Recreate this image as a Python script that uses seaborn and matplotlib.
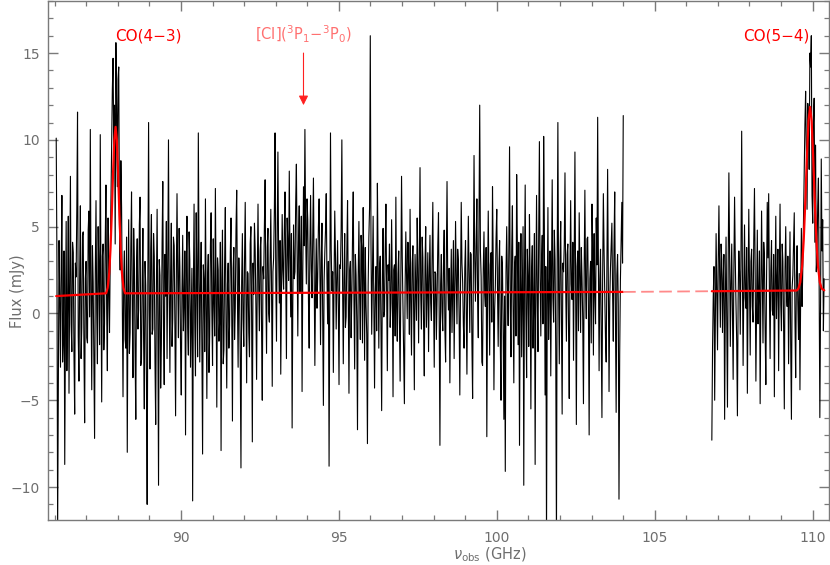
import numpy as np
import pandas as pd
import matplotlib
matplotlib.use("Agg")
import matplotlib.pyplot as plt
import seaborn as sns
from matplotlib.ticker import MultipleLocator

# ---------------- data ----------------
# channel grid of the two observed spectral windows (GHz)
seg1_start, seg2_start, chan_width = 86.05, 106.81, 0.0225

seg1_flux = [
    10.1, 3.2, -12.5, -4.0, 4.2, 0.9, -3.1, 2.5, 6.8, -2.8, -1.5, 3.6, -8.7, -1.0, 5.3, -3.3, 0.4, 5.6, -4.6, 1.7,
    7.9, -0.6, -2.2, 4.1, 3.5, -2.4, -5.8, 2.9, 2.1, 6.0, 11.6, -1.3, -3.9, 2.2, 6.2, -2.6, -0.8, 4.5, 4.7, -1.9,
    -6.3, 2.0, 3.0, -1.4, -1.7, 4.8, 5.9, -0.2, 10.6, 1.3, -4.4, 3.9, 1.8, -2.7, -7.2, 2.4, 6.5, 0.1, -2.9, 5.0,
    2.6, -1.8, 10.3, 1.6, -5.1, 3.3, 4.0, -2.1, -0.6, 4.2, 7.4, 0.3, -3.3, 5.5, 1.2, -1.1, 3.1, 6.4, 9.8, 12.9,
    14.7, 9.5, 12.0, 4.0, 15.6, 11.8, 7.3, 13.5, 14.2, 5.2, 2.5, 8.8, 6.1, 0.4, -4.8, 2.1, 3.6, -1.5, -2.0, 4.4,
    -8.0, 1.0, 5.4, -2.3, -1.1, 3.8, 7.0, 0.5, -3.7, 4.9, 2.8, -2.2, -6.1, 2.6, 4.3, -0.9, 0.2, 5.1, 6.7, -3.0,
    -2.7, 1.9, 4.9, -1.6, -5.5, 3.0, 1.6, -3.9, -11.0, 2.3, 11.0, 0.2, -3.2, 3.7, 5.7, -1.2, -0.9, 4.6, 3.3, -2.8,
    -6.4, 1.5, 6.0, -0.4, -9.9, 3.1, 2.2, -4.3, -1.8, 4.0, 7.6, -0.8, -4.1, 3.4, 1.0, 5.3, -2.6, 2.7, 10.0, 1.2,
    -3.4, 2.4, 5.2, -1.9, -0.3, 4.4, 3.9, -0.6, -5.9, 1.8, 6.9, 2.1, -1.4, 4.9, 2.7, -2.0, -4.7, 1.3, 4.5, -1.0,
    0.8, 3.6, -7.0, 2.5, 5.6, -0.8, -2.4, 4.7, 3.1, -3.1, -0.1, 2.6, -10.8, 1.1, 6.3, -0.5, -3.6, 5.8, 2.0, -2.5,
    10.4, 3.0, -2.8, 1.5, 4.1, -1.7, -8.1, 2.8, 1.9, -2.2, 6.6, 0.6, -4.9, 2.0, 3.4, -3.4, -1.2, 3.9, 5.8, 0.2,
    -3.0, 4.3, 0.7, -1.3, 7.2, 1.4, -5.4, 3.2, 2.5, -1.6, -0.4, 4.1, -7.9, 1.9, 4.8, -2.9, -2.1, 2.9, 6.1, -0.7,
    -4.3, 1.7, 2.9, -2.0, -0.7, 3.5, 5.5, 0.1, -6.2, 2.6, 3.8, -1.5, 0.3, 4.8, 7.1, 1.0, -3.1, 3.2, 1.5, -2.6,
    -8.9, 1.8, 4.6, -0.3, -1.9, 3.0, 6.4, 0.9, -4.0, 2.4, 2.3, -1.1, -2.5, 4.0, 5.0, -0.2, -7.4, 2.9, 1.1, 5.2,
    3.7, 0.5, -3.8, 2.2, 6.3, 1.4, -1.0, 3.6, 4.4, -0.9, -5.0, 2.7, 2.0, 5.1, 7.7, 1.3, -2.3, 3.8, 4.9, 0.0,
    -0.5, 3.1, 6.0, 1.6, -4.2, 2.4, 3.2, 5.9, 10.4, 2.0, -1.6, 4.6, 9.3, 3.3, 0.6, 4.2, -3.5, 1.1, 5.7, 2.5,
    1.4, 4.8, 7.0, 2.1, -2.6, 5.5, 4.0, 1.9, 8.2, 3.4, -0.2, 4.6, -6.6, 0.8, 5.1, 2.0, 2.4, 6.3, 8.6, 3.5,
    -1.3, 4.1, 6.2, 1.2, 3.0, 5.6, -4.5, 2.3, 7.3, 3.9, 10.6, 4.9, 1.7, 6.6, 5.4, 0.7, -2.0, 3.8, 6.8, 2.6,
    0.9, 4.4, 7.8, 2.7, -3.0, 1.6, 4.3, 0.3, 2.1, 5.0, 6.6, 2.9, -1.8, 3.1, 5.2, -0.4, -5.3, 1.9, 3.5, 4.8,
    6.9, 2.2, -0.6, 3.0, -8.8, 0.6, 10.4, 3.7, 1.3, 2.4, -3.4, 1.8, 5.9, 3.3, -0.9, 2.0, 4.2, 0.5, -4.1, 2.8,
    2.6, 4.9, 10.0, 1.8, -2.9, 2.0, 4.6, -0.8, -0.2, 3.6, 6.5, 1.1, -4.6, 2.5, 3.0, -1.4, 1.0, 4.3, 7.0, 0.9,
    -3.2, 3.4, 2.2, -0.5, -6.7, 2.1, 5.3, 1.0, -1.5, 4.5, 3.8, -1.7, 6.1, 2.3, -2.7, 3.8, 0.5, -1.2, -7.5, 1.6,
    4.4, 6.1, 16.0, 3.9, -1.2, 2.4, 5.6, 0.8, -4.3, 1.2, 2.7, -1.0, 7.5, 3.1, -2.0, 2.6, 3.3, -0.7, -5.6, 2.2,
    4.9, -0.2, 0.1, 3.6, 6.3, 1.4, -3.3, 2.8, 1.9, 4.0, -0.8, 0.6, 5.4, 1.7, -4.8, 2.5, 2.8, -1.3, 6.7, 0.4,
    -1.6, 2.3, 3.6, -0.5, -3.9, 1.9, 7.9, 3.2, 0.4, -2.1, -5.2, 1.5, 4.7, 2.0, -0.3, 4.1, 2.5, -1.2, 6.0, 0.7,
    -2.4, 2.9, 3.9, 0.2, -4.4, 3.4, 1.6, -0.4, 5.5, 2.6, -1.7, 3.0, 8.4, 1.1, -0.9, 4.4, 3.2, -0.6, -3.6, 2.7,
    5.0, -0.8, 1.2, 3.5, -2.2, 2.1, 4.5, 0.6, -0.4, 3.3, 6.4, 1.0, -3.1, 2.4, 2.3, -1.5, 0.9, 3.9, 5.8, -0.3,
    -7.6, 1.7, 3.4, 0.1, -1.0, 2.8, 4.8, -0.9, -2.8, 3.0, 7.6, 1.9, 0.2, 2.6, -4.0, 0.8, 3.7, -1.1, 1.5, 4.2,
    -2.6, 1.3, 5.3, 2.0, -0.6, 3.7, 3.0, -0.2, -4.7, 1.6, 6.4, 2.9, 1.8, -0.7, -2.0, 2.6, 4.2, 0.5, -3.5, 1.8,
    5.6, 2.4, -1.1, 3.5, 3.4, -1.6, -4.9, 2.2, 9.1, 3.1, 0.7, 4.0, 6.6, 1.0, -1.4, 5.2, 12.0, 3.6, 2.1, -2.8,
    -3.0, 2.5, 4.7, 1.1, 0.4, 3.8, -7.1, 0.9, 5.9, 1.4, -2.4, 2.8, 3.5, -0.5, 7.3, 3.0, -4.4, 0.2, 1.6, 4.3,
    6.0, 1.5, -1.9, 2.6, 4.2, -1.8, -5.0, 3.3, 2.7, -0.9, -6.1, 1.0, -9.1, 2.4, 5.0, 1.7, -0.7, 3.9, 9.6, 0.5,
    -2.5, 3.6, 6.2, 0.4, -4.0, 2.7, 3.3, -1.3, 8.0, 3.9, -1.8, 4.1, -7.6, 1.2, 4.6, -2.5, 1.0, 5.0, -9.9, 2.3,
    7.4, 0.0, -3.7, 3.7, 2.1, -1.9, 5.7, 1.8, -5.5, 2.5, 3.9, -2.0, 0.6, 4.6, -8.7, 1.3, 6.8, 0.8, -2.2, 4.5,
    9.9, 2.1, -1.3, 3.0, 4.5, -0.6, 10.2, 4.9, -4.7, 2.7, -13.0, 0.3, 6.1, -1.5, 1.4, 3.6, -3.6, 2.2, 7.7, 0.9,
    -0.5, 4.8, 3.1, -2.1, -13.0, 2.6, 11.0, 1.4, -2.9, 3.2, 5.3, -0.7, -5.8, 2.9, 2.4, 4.0, 8.1, 1.6, -1.6, 3.4,
    4.0, -0.9, -4.9, 2.4, 6.5, 1.7, 0.8, 4.1, -2.7, 3.3, 9.3, 1.0, -6.4, 2.7, 3.6, -1.0, 5.8, 2.3, -1.1, 3.8,
    2.0, -0.4, -5.2, 2.5, 7.1, 1.6, -0.3, 4.3, 4.4, 0.2, -7.0, 2.0, 3.0, -1.7, 6.3, 3.5, -2.4, 4.6, 1.2, -0.6,
    5.5, 2.8, 11.3, 3.1, -3.3, 1.9, 3.7, -0.8, -6.0, 2.0, 6.9, 3.6, 0.9, -1.4, -2.8, 2.4, 8.3, 1.5, -4.5, 0.7,
    2.6, 4.0, 5.2, 1.2, -1.6, 3.9, 7.0, -0.2, -5.7, 2.2, 3.4, 0.5, -10.7, -2.3, 1.9, 4.2, 6.4, 2.9, 11.4,
]

seg2_flux = [
    -7.3, -2.0, 1.0, 2.7, -5.0, -0.4, 4.6, 1.3, -2.1, 3.0, 6.2, 2.2, -0.8, 4.0, 3.1, -1.1, 2.0, 3.4, -6.1, 0.6,
    4.4, -0.9, -5.4, 2.8, 8.1, 3.5, -1.9, 1.7, 4.0, -0.2, -3.8, 2.5, 6.7, 3.1, 0.5, -1.6, -5.9, 0.8, 3.6, 2.4,
    -1.2, 3.3, 10.5, 2.6, -3.0, 1.5, 5.1, 0.9, 0.3, 3.8, -4.6, 1.2, 6.0, 2.0, -2.4, 3.0, 3.7, 0.4, -0.5, 4.2,
    7.2, 2.3, -3.9, 0.7, 4.8, -0.6, 1.1, 3.6, -5.2, 1.0, 5.9, 2.1, -1.7, 4.1, 3.3, -0.9, -4.1, 1.9, 6.4, 3.2,
    6.9, 1.4, -2.6, 2.5, 4.2, 0.2, -0.1, 3.4, -4.8, 1.6, 5.6, -0.3, 1.9, 3.7, -3.3, 2.1, 6.3, 0.5, -1.0, 4.0,
    3.0, -0.7, -5.5, 2.6, 5.0, 1.2, 0.4, 3.3, -2.9, 0.9, 4.7, -1.8, -6.1, 1.5, 2.2, 3.9, 5.8, -0.4, -3.7, 2.2,
    3.9, 0.6, -1.5, 2.3, -4.4, 1.0, 4.9, 0.4, 2.6, 5.5, 8.4, 10.9, 12.8, 9.6, 6.0, 12.1, 11.5, 8.3, 15.0, 14.2,
    16.0, 6.8, 5.2, 11.0, 12.4, 4.1, 9.7, 2.4, 3.5, 6.2, 7.8, 1.9, -6.0, 0.5, 8.9, 3.6, 5.4, -1.0, 2.0,
]

# fitted model (continuum + two Gaussian lines)
model1_freq = [86.05, 87.63, 87.68, 87.73, 87.77, 87.81, 87.85, 87.89, 87.93, 87.97, 88.01, 88.05,
               88.09, 88.13, 88.18, 88.23, 104.00]
model1_flux = [1.00, 1.16, 1.48, 2.36, 3.75, 5.77, 8.09, 10.00, 10.75, 10.00, 8.09, 5.77,
               3.75, 2.36, 1.48, 1.16, 1.24]
gap_freq = [104.00, 106.81]
gap_flux = [1.24, 1.28]
model2_freq = [106.81, 109.50, 109.55, 109.61, 109.67, 109.72, 109.77, 109.82, 109.87, 109.92, 109.97,
               110.02, 110.07, 110.12, 110.17, 110.23, 110.29, 110.37]
model2_flux = [1.28, 1.32, 1.43, 1.79, 2.73, 4.25, 6.46, 9.00, 11.08, 11.90, 11.08,
               9.00, 6.46, 4.25, 2.73, 1.79, 1.43, 1.33]

labels = ["CO(4\u22123)", r"[CI]($^3$P$_1$$-$$^3$P$_0$)", "CO(5\u22124)"]

# ---------------- figure ----------------
sns.set_theme(style="ticks")
plt.rcParams["font.family"] = ["DejaVu Sans"]
grey = "#7a7a7a"

fig = plt.figure(figsize=(8.3, 5.65), dpi=100)
ax = fig.add_axes([48 / 830, 1 - 520 / 565, 781 / 830, 519 / 565])

df1 = pd.DataFrame({"freq": seg1_start + chan_width * np.arange(len(seg1_flux)), "flux": seg1_flux})
df2 = pd.DataFrame({"freq": seg2_start + chan_width * np.arange(len(seg2_flux)), "flux": seg2_flux})
for d in (df1, df2):
    sns.lineplot(data=d, x="freq", y="flux", ax=ax, color="black", lw=0.8,
                 estimator=None, sort=False, legend=False)

sns.lineplot(x=model1_freq, y=model1_flux, ax=ax, color="#ff0000", lw=1.6, estimator=None, sort=False)
sns.lineplot(x=model2_freq, y=model2_flux, ax=ax, color="#ff0000", lw=1.6, estimator=None, sort=False)
ax.plot(gap_freq, gap_flux, color="#ff8a8a", lw=1.3, dashes=(7, 3))

ax.set_xlim(85.79, 110.52)
ax.set_ylim(-11.9, 18.0)

# annotations
ax.text(87.93, 16.0, labels[0], color="#ff0000", fontsize=11, ha="left", va="center")
ax.text(93.88, 16.1, labels[1], color="#ff7070", fontsize=10.5, ha="center", va="center")
ax.text(109.9, 16.0, labels[2], color="#ff0000", fontsize=11, ha="right", va="center")
ax.annotate("", xy=(93.88, 12.0), xytext=(93.88, 15.0),
            arrowprops=dict(arrowstyle="-|>", color="#ff2020", lw=0.8,
                            mutation_scale=14, shrinkA=0, shrinkB=0))

# axes styling
for s in ax.spines.values():
    s.set_color(grey)
    s.set_linewidth(1.0)
ax.xaxis.set_major_locator(MultipleLocator(5))
ax.xaxis.set_minor_locator(MultipleLocator(1))
ax.yaxis.set_major_locator(MultipleLocator(5))
ax.yaxis.set_minor_locator(MultipleLocator(1))
ax.tick_params(which="both", direction="in", top=True, right=True, colors=grey,
               labelcolor="#6e6e6e", labelsize=10)
ax.tick_params(which="major", length=7, width=1.0)
ax.tick_params(which="minor", length=3.8, width=0.9)
ax.tick_params(axis="x", which="major", pad=8)
ax.tick_params(axis="y", which="major", pad=6)

ax.set_xlabel(r"$\nu_{\rm obs}$ (GHz)", color="#6e6e6e", fontsize=10.5)
ax.set_ylabel("Flux (mJy)", color="#6e6e6e", fontsize=10.5)
ax.xaxis.set_label_coords(0.566, -0.05)
ax.yaxis.set_label_coords(-0.03, 0.44)

fig.savefig("out.png", dpi=100)
